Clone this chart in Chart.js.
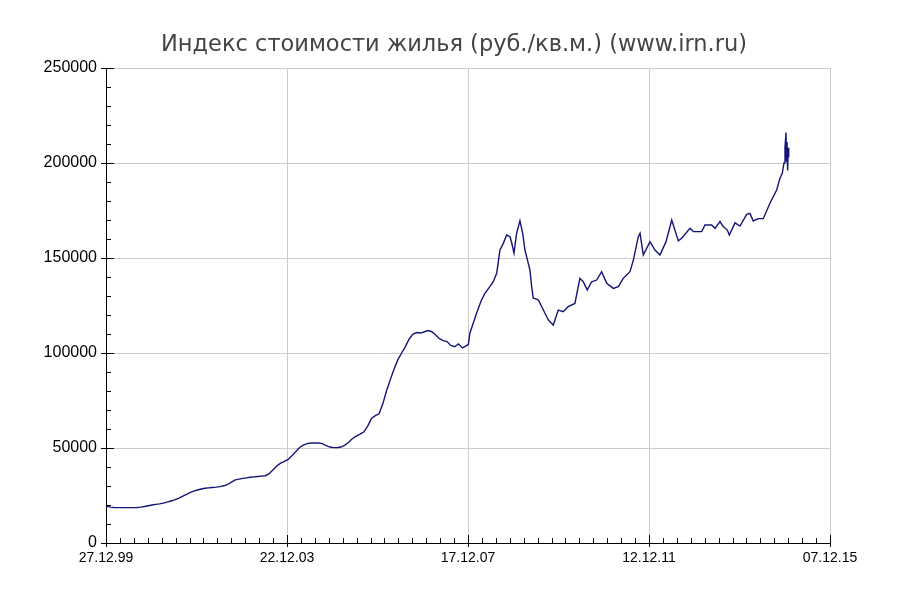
<!DOCTYPE html>
<html>
<head>
<meta charset="utf-8">
<script src="https://cdn.jsdelivr.net/npm/chart.js@4"></script>
<style>
	html, body { margin: 0; padding: 0; background: #fff; }
	#wrap { width: 908px; height: 597px; }
</style>
</head>
<body>
<div id="wrap"><canvas id="irnChart" width="908" height="597"></canvas></div>
<script>
// Индекс стоимости жилья, руб./кв.м.
const dates = [
	"1999-12-27","2000-02-01","2000-03-01","2000-04-01","2000-05-01","2000-06-01","2000-07-01","2000-08-01","2000-09-01","2000-10-01","2000-11-01","2000-12-01",
	"2001-01-01","2001-02-01","2001-03-01","2001-04-01","2001-05-01","2001-06-01","2001-07-01","2001-08-01","2001-09-01","2001-10-01","2001-11-01","2001-12-01",
	"2002-01-01","2002-02-01","2002-03-01","2002-04-01","2002-05-01","2002-06-01","2002-07-01","2002-08-01","2002-09-01","2002-10-01","2002-11-01","2002-12-01",
	"2003-01-01","2003-02-01","2003-03-01","2003-04-01","2003-05-01","2003-06-01","2003-07-01","2003-08-01","2003-09-01","2003-10-01","2003-11-01","2003-12-01",
	"2004-01-01","2004-02-01","2004-03-01","2004-04-01","2004-05-01","2004-06-01","2004-07-01","2004-08-01","2004-09-01","2004-10-01","2004-11-01","2004-12-01",
	"2005-01-01","2005-02-01","2005-03-01","2005-04-01","2005-05-01","2005-06-01","2005-07-01","2005-08-01","2005-09-01","2005-10-01","2005-11-01","2005-12-01",
	"2006-01-01","2006-02-01","2006-03-01","2006-04-01","2006-05-01","2006-06-01","2006-07-01","2006-08-01","2006-09-01","2006-10-01","2006-11-01","2006-12-01",
	"2007-01-01","2007-02-01","2007-03-01","2007-04-01","2007-05-01","2007-06-01","2007-07-01","2007-08-01","2007-09-01","2007-10-01","2007-11-01","2007-12-01","2007-12-20",
	"2008-01-01","2008-02-24","2008-04-01","2008-05-01","2008-06-10","2008-07-07","2008-08-04","2008-08-30","2008-09-26","2008-10-23","2008-11-19","2008-12-03","2008-12-21",
	"2009-01-11","2009-02-07","2009-03-01","2009-03-19","2009-04-15","2009-04-28","2009-05-12","2009-05-25","2009-06-15","2009-07-05","2009-08-14","2009-09-23","2009-11-02","2009-12-12",
	"2010-01-21","2010-03-02","2010-04-25","2010-06-04","2010-07-01","2010-08-02","2010-09-07","2010-10-17","2010-11-26",
	"2011-01-06","2011-02-28","2011-04-09","2011-05-19","2011-07-12","2011-08-08","2011-09-17","2011-10-01","2011-10-27","2011-12-20",
	"2012-01-29","2012-03-09","2012-04-27","2012-06-12","2012-08-04","2012-08-31","2012-11-06","2012-12-03",
	"2013-02-08","2013-03-06","2013-04-29","2013-05-26","2013-07-05","2013-07-31","2013-09-02","2013-09-18","2013-11-03","2013-12-13",
	"2014-02-05","2014-03-03","2014-03-30","2014-05-09","2014-06-18","2014-08-11","2014-10-04","2014-10-30","2014-11-18","2014-12-02","2014-12-10","2014-12-18","2014-12-22","2014-12-26","2014-12-31",
	"2015-01-05","2015-01-09"
]
const prices = [
	19500,18900,18700,18600,18600,18600,18600,18600,18700,18900,19200,19600,
	20000,20300,20600,21000,21500,22100,22700,23500,24500,25500,26500,27300,
	27900,28400,28800,29000,29200,29400,29700,30100,30800,32000,33200,33600,
	34000,34300,34600,34800,35000,35200,35400,36500,38500,40500,42000,43000,
	44000,46000,48000,50300,51500,52300,52600,52700,52600,52300,51300,50500,
	50200,50300,50500,51500,53000,55000,56200,57300,58500,61500,65500,67000,
	68000,73500,80000,86000,91500,96500,100000,103500,107500,110000,110800,110500,
	111200,111800,111200,109500,107500,106500,106000,104000,103300,104800,102700,103800,104500,
	110400,120900,127500,131400,134900,137500,142000,154200,157700,162100,161200,157900,152500,
	163000,169600,163000,154200,147200,143700,134900,128800,128500,127900,122600,117400,114700,122600,
	121700,124400,126100,139300,137500,133200,137500,138400,142800,
	136700,134000,134900,139300,142800,148900,161200,163000,151600,158600,
	154200,151600,158600,170000,159000,160400,165600,163900,
	163900,167400,167400,165600,169200,166500,164700,162100,168500,166800,
	173000,173500,169500,170700,170700,178800,185800,191900,194600,200000,208000,216000,201000,211000,196000,
	208000,203000
]

// ось X: дни от 27.12.99, подписи через 1456 дней
const startDay = Date.UTC(1999, 11, 27)
const dayMs = 86400000
const xStep = 1456
const xMinor = 112
const xMax = xStep * 4

function toDay(s) {
	const p = s.split("-")
	return Math.round((Date.UTC(+p[0], +p[1] - 1, +p[2]) - startDay) / dayMs)
}

function dayLabel(d) {
	const t = new Date(startDay + d * dayMs)
	const dd = String(t.getUTCDate()).padStart(2, "0")
	const mm = String(t.getUTCMonth() + 1).padStart(2, "0")
	const yy = String(t.getUTCFullYear() % 100).padStart(2, "0")
	return dd + "." + mm + "." + yy
}

const points = dates.map((d, i) => ({ x: toDay(d), y: prices[i] }))

// засечки внутрь графика, как в оригинале
const tickMarks = {
	id: "tickMarks",
	afterDraw(chart) {
		const ctx = chart.ctx
		const area = chart.chartArea
		const xs = chart.scales.x
		const ys = chart.scales.y
		ctx.save()
		ctx.strokeStyle = "#000"
		ctx.lineWidth = 1
		ctx.beginPath()
		for (let v = 0; v <= 250000; v += 10000) {
			const y = Math.round(ys.getPixelForValue(v)) + 0.5
			const major = v % 50000 === 0
			ctx.moveTo(area.left - (major ? 5 : 0), y)
			ctx.lineTo(area.left + (major ? 8 : 5), y)
		}
		for (let d = 0; d <= xMax; d += xMinor) {
			const x = Math.round(xs.getPixelForValue(d)) + 0.5
			const major = d % xStep === 0
			ctx.moveTo(x, area.bottom + (major ? 4 : 0))
			ctx.lineTo(x, area.bottom - (major ? 8 : 5))
		}
		ctx.stroke()
		ctx.restore()
	}
}

const irnChart = new Chart(document.getElementById("irnChart"), {
	type: "line",
	data: {
		datasets: [{
			label: "Индекс",
			data: points,
			borderColor: "rgb(20, 20, 120)",
			borderWidth: 1.4,
			pointRadius: 0,
			tension: 0,
			fill: false
		}]
	},
	options: {
		responsive: false,
		animation: false,
		layout: { padding: 0 },
		scales: {
			x: {
				type: "linear",
				min: 0,
				max: xMax,
				afterFit: s => { s.height = 54 },
				ticks: {
					stepSize: xStep,
					padding: 7,
					color: "#000",
					font: { family: "Liberation Sans", size: 14 },
					callback: v => dayLabel(v),
					maxRotation: 0,
					autoSkip: false
				},
				grid: { color: "#cccccc", drawTicks: false },
				border: { color: "#000", width: 1 }
			},
			y: {
				min: 0,
				max: 250000,
				afterFit: s => { s.width = 106 },
				ticks: {
					stepSize: 50000,
					padding: 9,
					color: "#000",
					font: { family: "Liberation Sans", size: 16 },
					callback: v => String(v)
				},
				grid: { color: "#cccccc", drawTicks: false },
				border: { color: "#000", width: 1 }
			},
			// пустое поле справа, чтобы заголовок был по центру всего рисунка
			yRight: {
				type: "linear",
				position: "right",
				min: 0,
				max: 250000,
				afterFit: s => { s.width = 78 },
				ticks: { display: false },
				grid: { display: false, drawTicks: false },
				border: { display: false }
			}
		},
		plugins: {
			legend: { display: false },
			tooltip: { enabled: false },
			title: {
				display: true,
				text: "Индекс стоимости жилья (руб./кв.м.) (www.irn.ru)",
				color: "#444",
				font: { family: "DejaVu Sans", size: 22.5, weight: "normal", lineHeight: 1.2 },
				padding: { top: 32, bottom: 9 }
			}
		}
	},
	plugins: [tickMarks]
})
</script>
</body>
</html>
